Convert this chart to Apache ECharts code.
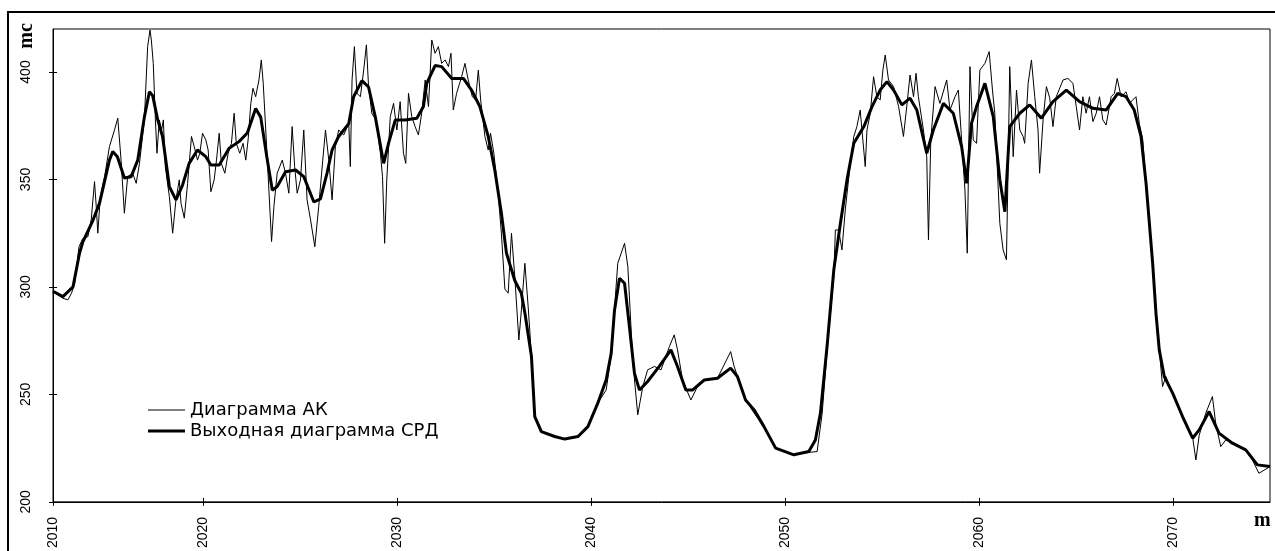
<!DOCTYPE html>
<html>
<head>
<meta charset="utf-8">
<script src="https://cdn.jsdelivr.net/npm/echarts@6/dist/echarts.min.js"></script>
<style>
html,body{margin:0;padding:0;background:#fff;}
#c{width:1275px;height:551px;}
</style>
</head>
<body>
<div id="c"></div>
<script>
// Depth (m) and interval transit time (mc) — acoustic log (АК), raw
const akDepth = [2012.25,2012.51,2012.76,2013.02,2013.20,2013.37,2013.59,2013.79,2014.05,2014.22,2014.39,2014.48,2014.56,2014.69,2014.91,2015.16,2015.42,2015.59,2015.76,2015.93,2016.10,2016.36,2016.54,2016.71,2016.96,2017.13,2017.25,2017.32,2017.42,2017.53,2017.61,2017.73,2017.85,2017.94,2018.04,2018.25,2018.42,2018.59,2018.76,2018.85,2019.02,2019.19,2019.39,2019.53,2019.70,2019.82,2019.96,2020.13,2020.25,2020.39,2020.56,2020.68,2020.82,2020.93,2021.11,2021.28,2021.45,2021.59,2021.70,2021.88,2022.05,2022.19,2022.31,2022.45,2022.56,2022.70,2022.87,2022.99,2023.09,2023.22,2023.39,2023.52,2023.64,2023.81,2024.07,2024.24,2024.41,2024.58,2024.71,2024.84,2025.01,
2025.18,2025.35,2025.53,2025.75,2025.95,2026.16,2026.30,2026.47,2026.64,2026.81,2026.98,2027.24,2027.50,2027.58,2027.67,2027.79,2027.92,2028.10,2028.27,2028.41,2028.52,2028.69,2028.90,2029.13,2029.24,2029.35,2029.46,2029.64,2029.81,2029.98,2030.15,2030.32,2030.44,2030.58,2030.75,2030.92,2031.09,2031.26,2031.44,2031.61,2031.78,2031.95,2032.12,2032.29,2032.47,2032.64,2032.77,2032.89,2033.06,2033.32,2033.49,2033.66,2033.87,2034.04,2034.18,2034.30,2034.52,2034.69,2034.81,2034.98,2035.20,2035.37,2035.55,2035.72,2035.89,2036.06,2036.27,2036.40,2036.58,2036.75,2036.92,
2037.09,2037.43,2038.12,2038.63,2039.32,2039.66,2039.83,2040.34,2040.77,2041.03,2041.37,2041.72,2041.89,2042.14,2042.40,2042.66,2042.91,2043.26,2043.60,2044.03,2044.28,2044.45,2044.71,2045.14,2045.48,2045.83,2046.51,2047.19,2047.37,2047.96,2048.40,2048.91,2049.51,2050.45,2051.22,2051.65,2051.91,2052.16,2052.51,2052.59,2052.76,2052.93,2053.10,2053.36,2053.54,2053.70,2053.87,2053.96,2054.13,2054.22,2054.39,2054.56,2054.73,2054.90,2055.04,2055.16,2055.33,2055.59,2055.85,2056.10,2056.27,2056.44,2056.62,2056.75,2056.87,2057.13,2057.30,2057.39,2057.51,2057.73,2057.98,2058.33,2058.50,2058.76,2058.93,2059.10,2059.27,2059.39,2059.53,2059.70,2059.87,2060.04,2060.30,2060.52,2060.69,2060.81,2061.07,2061.24,2061.41,2061.50,2061.58,2061.76,2061.93,2062.10,2062.27,2062.35,2062.53,2062.70,2062.87,2063.04,2063.12,2063.30,2063.47,2063.64,2063.81,2063.98,2064.33,2064.58,2064.84,2065.01,2065.18,2065.35,2065.52,2065.69,2065.87,2066.04,2066.21,2066.38,2066.55,2066.81,2066.98,2067.12,2067.32,2067.58,2067.75,2068.09,2068.26,2068.44,2068.61,2068.78,2068.95,2069.12,2069.29,2069.46,2069.63,2069.98,2070.49,2071.01,2071.18,2071.35,2071.69,2072.03,2072.20,2072.46,2072.72,2073.23,2073.75,2074.09,2074.43,2075.00];
const akValue = [297.8,296.3,294.7,294,297,301.7,318.7,322.6,323.4,331.2,349,337.4,325,342,351.3,365.3,373,378.5,359,334.3,351.3,352.9,348.2,357.5,377.7,411.8,419.5,414.9,404,377.7,362.2,377.7,373,377.7,356,342,325,340.5,349.8,338.9,332,348.2,370,365.3,359,362.2,371.5,368.4,363.7,344.3,349.8,359,371.5,357.5,352.9,362.2,366.8,380.8,366.8,362.2,366.8,359,368.4,385.4,392.4,388.5,396.3,405.6,394.7,373,343.6,321.1,337.4,352.9,359,352.9,343.6,374.6,356,343.6,349.8,
373,340.5,331.2,318.7,337.4,359,373,359,340.5,365.3,373,370.7,376.1,356,396.3,411.8,390.1,388.5,400.9,412.6,393.2,380.8,377.7,362.2,351.3,320.3,349.8,379.2,385.4,373,386.2,362.2,357.5,390.1,379.2,374.6,370.7,380.8,396.3,383.9,414.9,408.7,411.8,404,405.6,402.5,408.7,382.3,390.1,397.8,404,396.3,388.5,387,400.9,387,370,363.7,371.5,362.2,343.6,325,299,297.1,325,304.8,275.3,289.3,311,290.8,268,
239.7,232.7,230.4,229.2,230.4,233,235,246,252,268,311,320.3,309.4,266,240.5,253.6,261.4,263,261.4,272.2,277.7,270.7,256.7,247.4,253.6,256.7,257.5,269.9,263,247.4,241.3,235,225,222,223,223.4,241.3,270,305,326.5,326.5,317.2,335.8,357.5,370,374.6,382.3,373,356,373,380.8,397.8,388.5,387,400.9,407.9,396.3,393.2,383.9,370,383.9,398.6,388.5,399.4,388.5,373,360.6,321.9,368.4,393.2,385.4,396.3,382.3,388.5,391.6,368.4,345.1,315.7,402.5,368.4,366.8,400.9,404,409.5,391.6,380.8,329.6,317.2,312.6,357.5,402.5,360.6,391.6,373,370,366.8,394.7,405.6,388.5,373,352.9,377.7,393.2,388,374.6,388.5,396.3,397,394.7,383.9,373,388.5,380.8,388.5,376.9,380.8,388.5,377.7,375.3,388.5,390.1,397,388.5,390.8,385.4,388.5,376.1,368.4,348,330,311,288,271,253.6,258.3,250,240,230,219.5,231,241.3,249,236.6,225.7,228.8,227,224,219.5,213.3,216.4];

// Output diagram (СРД), smoothed
const srdDepth = [2012.25,2012.76,2013.28,2013.62,2013.79,2014.31,2014.65,2015.16,2015.33,2015.57,2015.93,2016.28,2016.62,2016.96,2017.22,2017.39,2017.65,2017.90,2018.25,2018.59,2018.93,2019.27,2019.70,2020.13,2020.39,2020.82,2021.33,2021.84,2022.27,2022.70,2022.96,2023.30,2023.56,2023.81,2024.24,2024.76,2025.18,2025.70,2026.04,2026.38,2026.64,2026.98,2027.50,2027.75,2028.18,2028.52,2028.87,2029.30,2029.55,2029.90,2030.41,2031.01,2031.35,2031.52,2031.95,2032.29,2032.81,2033.41,2033.83,2034.26,2034.69,2035.03,2035.37,2035.63,2036.06,2036.40,2036.58,2036.92,2037.09,2037.43,2038.12,2038.63,2039.32,2039.83,2040.34,2040.77,2041.03,2041.20,2041.46,2041.72,2041.97,2042.23,2042.49,2042.91,2043.51,2044.11,2044.45,2044.88,2045.22,2045.83,2046.51,2047.19,2047.54,2047.96,2048.40,2048.91,2049.51,2050.45,2051.22,2051.56,2051.82,2052.16,2052.51,2052.85,2053.19,2053.54,2054.06,2054.48,2054.90,2055.25,2055.59,2056.02,2056.44,2056.79,2057.30,2057.64,2058.16,2058.67,2059.10,2059.36,2059.61,2059.87,2060.30,2060.73,2061.07,2061.33,2061.58,2062.10,2062.61,2063.21,2063.81,2064.50,2065.18,2065.87,2066.55,2067.15,2067.58,2068.00,2068.35,2068.61,2068.78,2068.95,2069.12,2069.29,2069.55,2069.98,2070.49,2071.01,2071.35,2071.86,2072.37,2073.06,2073.75,2074.35,2075.00];
const srdValue = [298,295.5,300,315.8,321,331,339,359,363,360.6,350.7,351.3,359,379,390.8,389,377.7,370,346.7,340.5,347.4,357.5,363.7,360.6,356.7,356.7,364.5,367.6,371.6,383,379,359,345,346.7,353.6,354.4,351.3,339.5,341,353,363.7,370,376,388.5,396,393,379,357.5,366.8,377.7,377.7,378.5,383.9,394.7,403,402.5,397,397,391.6,383.9,370,354.4,334.3,315.7,303,297,288,267.6,239.7,232.7,230.4,229.2,230.4,235,245.9,256.7,269,289,304,301.7,281.5,259.9,252,256,263,270.7,263,252,252,256.7,257.5,262.2,258.3,247.4,242.8,235,225,221.9,223.4,228.8,241.3,272.2,308,329.6,349.8,366.8,374.6,383.9,391.6,395.5,391.6,384.7,387.8,382.3,362.2,373,385.4,380.8,365.3,348.2,376.1,383.9,394.7,379.2,349.8,335,374.6,380.8,384.7,378.5,386.2,391.6,386.2,383.1,382.3,390,388.5,382.3,370,348.2,329.6,311,287.8,270.7,258.3,250.6,239.7,229.6,233.5,242,232,227.3,224.2,217.2,216.4];

const xTickValues = [2012.25, 2020, 2030, 2040, 2050, 2060, 2070];
const xTickLabels = ['2010', '2020', '2030', '2040', '2050', '2060', '2070'];
const yTickValues = [200, 250, 300, 350, 400];
const seriesNames = ['Диаграмма АК', 'Выходная диаграмма СРД'];

const akData = akDepth.map((d, i) => [d, akValue[i]]);
const srdData = srdDepth.map((d, i) => [d, srdValue[i]]);

const X_MIN = 2012.25, X_MAX = 2075, Y_MIN = 200, Y_MAX = 420;
const lbl = {fontFamily: 'Liberation Sans, Arial, sans-serif', fontSize: 14, color: '#000'};
const legText = {fontFamily: 'DejaVu Sans, sans-serif', fontSize: 18, color: '#000'};

const chart = echarts.init(document.getElementById('c'), null, {renderer: 'canvas'});
chart.setOption({
  backgroundColor: '#fff',
  animation: false,
  grid: {left: 53, top: 29, width: 1217, height: 474, show: true, borderColor: '#000', borderWidth: 1, backgroundColor: 'transparent'},
  legend: [{
    left: 148, top: 401, padding: 0, itemWidth: 37, itemHeight: 1,
    data: [{name: seriesNames[0], icon: 'rect'}], textStyle: legText, selectedMode: false
  }, {
    left: 148, top: 422, padding: 0, itemWidth: 37, itemHeight: 3,
    data: [{name: seriesNames[1], icon: 'rect'}], textStyle: legText, selectedMode: false
  }],
  xAxis: [{
    type: 'value', min: X_MIN, max: X_MAX, position: 'bottom',
    axisLine: {show: true, lineStyle: {color: '#000', width: 1}},
    axisTick: {show: true, inside: false, length: 4, lineStyle: {color: '#000'}, customValues: xTickValues},
    axisLabel: {show: true, rotate: 90, margin: 15, ...lbl, customValues: xTickValues,
      formatter: (v) => { const i = xTickValues.findIndex(t => Math.abs(t - v) < 1e-6); return i >= 0 ? xTickLabels[i] : ''; }},
    splitLine: {show: false}
  }, {
    type: 'value', min: X_MIN, max: X_MAX, position: 'bottom',
    axisLine: {show: false},
    axisTick: {show: true, inside: true, length: 4, lineStyle: {color: '#000'}, customValues: xTickValues},
    axisLabel: {show: false},
    splitLine: {show: false}
  }],
  yAxis: [{
    type: 'value', min: Y_MIN, max: Y_MAX, position: 'left',
    axisLine: {show: true, lineStyle: {color: '#000', width: 1}},
    axisTick: {show: true, inside: false, length: 4, lineStyle: {color: '#000'}, customValues: yTickValues},
    axisLabel: {show: true, rotate: 90, margin: 20, ...lbl, customValues: yTickValues},
    splitLine: {show: false}
  }, {
    type: 'value', min: Y_MIN, max: Y_MAX, position: 'left',
    axisLine: {show: false},
    axisTick: {show: true, inside: true, length: 4, lineStyle: {color: '#000'}, customValues: yTickValues},
    axisLabel: {show: false},
    splitLine: {show: false}
  }],
  series: [{
    name: seriesNames[0], type: 'line', data: akData, symbol: 'none', showSymbol: false,
    xAxisIndex: 0, yAxisIndex: 0,
    lineStyle: {color: '#000', width: 1}, itemStyle: {color: '#000'}, z: 2
  }, {
    name: seriesNames[1], type: 'line', data: srdData, symbol: 'none', showSymbol: false,
    xAxisIndex: 0, yAxisIndex: 0,
    lineStyle: {color: '#000', width: 3}, itemStyle: {color: '#000'}, z: 3
  }],
  graphic: [
    {type: 'rect', shape: {x: 8, y: 12, width: 1290, height: 600}, style: {fill: 'none', stroke: '#000', lineWidth: 2}, silent: true},
    {type: 'text', x: 27, y: 36, rotation: Math.PI / 2,
      style: {text: 'mc', fontFamily: 'Liberation Serif, Times New Roman, serif', fontWeight: 'bold', fontSize: 20, fill: '#000', align: 'center', verticalAlign: 'middle'}},
    {type: 'text', x: 1254, y: 521,
      style: {text: 'm', fontFamily: 'Liberation Serif, Times New Roman, serif', fontWeight: 'bold', fontSize: 20, fill: '#000', align: 'left', verticalAlign: 'middle'}}
  ]
});
</script>
</body>
</html>
